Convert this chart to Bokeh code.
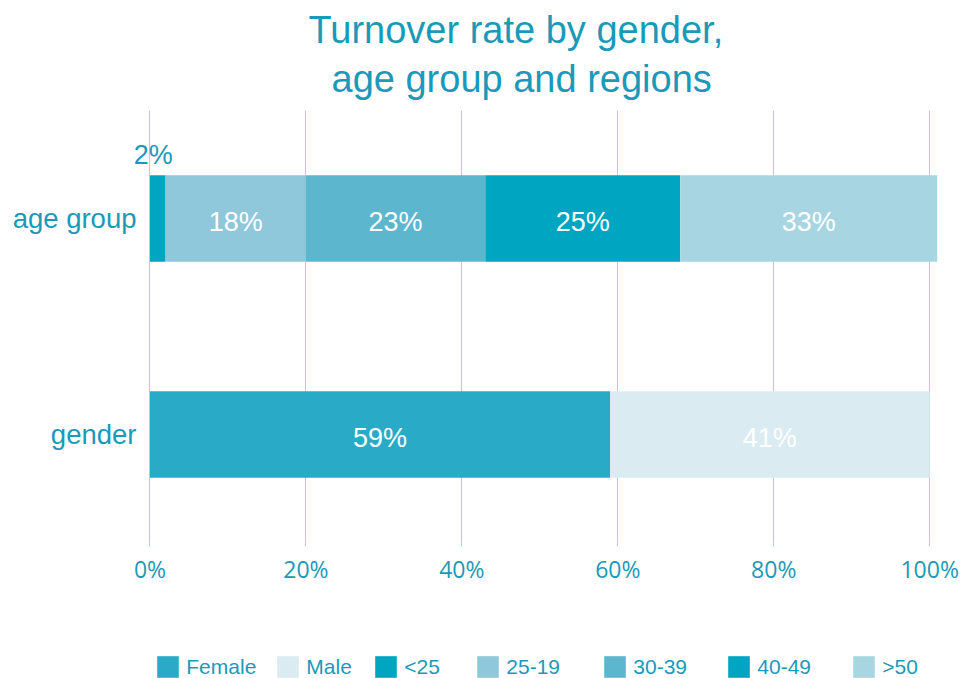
import numpy as np
from bokeh.plotting import figure
from bokeh.layouts import column
from bokeh.models import (ColumnDataSource, FactorRange, Range1d, FixedTicker,
                          PrintfTickFormatter, Legend, LegendItem, Title)
from bokeh.transform import dodge
from bokeh.core.properties import value
from bokeh.embed import file_html
from bokeh.resources import INLINE

# ---- data ----
categories = ["gender", "age group"]
gender_labels = ["Female", "Male"]
gender_values = [59, 41]
age_labels = ["<25", "25-19", "30-39", "40-49", ">50"]
age_values = [2, 18, 23, 25, 33]
x_ticks = [0, 20, 40, 60, 80, 100]

# ---- styles ----
gender_colors = ["#29abc7", "#daebf1"]
age_colors = ["#00a5c2", "#8fc8da", "#5cb6ce", "#00a5c2", "#a8d5e2"]
TEAL = "#1a9ab8"
GRID = "#a6d3de"
FONT = "Liberation Sans"
FRAME_LEFT = 130
legend_x = [157, 277, 375, 477, 604, 728, 853]   # legend swatch positions (px on page)

p = figure(title=None, y_range=FactorRange(*categories), x_range=Range1d(-2.5, 101),
           frame_width=807, frame_height=432,
           min_border_left=FRAME_LEFT, min_border_right=25,
           min_border_top=110, min_border_bottom=50,
           output_backend="svg", toolbar_location=None)

t2 = Title(text="age group and regions", align="left", offset=201,
           text_font=FONT, text_font_size="38px", text_font_style="normal",
           text_color=TEAL, standoff=22)
t1 = Title(text="Turnover rate by gender,", align="left", offset=178,
           text_font=FONT, text_font_size="38px", text_font_style="normal",
           text_color=TEAL, standoff=-12)
p.add_layout(t2, "above")
p.add_layout(t1, "above")

inside = dict(x=[], y=[], text=[])
outside = dict(x=[], y=[], text=[])

def draw(cat, values, colors):
    vals = np.array(values, dtype=float)
    rights = np.cumsum(vals)
    lefts = rights - vals
    for v, l, r, c in zip(vals, lefts, rights, colors):
        src = ColumnDataSource(dict(y=[cat], left=[l], right=[r]))
        p.hbar(y="y", left="left", right="right", height=0.4, source=src,
               fill_color=c, line_color=None)
        target = inside if v >= 5 else outside
        target["x"].append((l + r) / 2)
        target["y"].append(cat)
        target["text"].append(f"{int(v)}%")

draw("gender", gender_values, gender_colors)
draw("age group", age_values, age_colors)

p.text(x="x", y="y", text="text", source=ColumnDataSource(inside), y_offset=3,
       text_font=value(FONT), text_font_size="27px", text_color="white",
       text_align="center", text_baseline="middle")
p.text(x="x", y=dodge("y", 0.2, range=p.y_range), text="text",
       source=ColumnDataSource(outside), x_offset=-4.5, y_offset=-5,
       text_font=value(FONT), text_font_size="27px", text_color=TEAL,
       text_align="center", text_baseline="bottom")

p.outline_line_color = None
p.xgrid.ticker = FixedTicker(ticks=x_ticks)
p.xgrid.grid_line_color = GRID
p.ygrid.grid_line_color = None

p.xaxis.ticker = FixedTicker(ticks=x_ticks)
p.xaxis.formatter = PrintfTickFormatter(format="%d%%")
p.xaxis.axis_line_color = None
p.xaxis.major_tick_line_color = GRID
p.xaxis.major_tick_in = 0
p.xaxis.major_tick_out = 4
p.xaxis.minor_tick_line_color = None
p.xaxis.major_label_text_font = "Open Sans"
p.xaxis.major_label_text_font_size = "23px"
p.xaxis.major_label_text_color = TEAL
p.xaxis.major_label_standoff = 6

p.yaxis.axis_line_color = None
p.yaxis.major_tick_line_color = None
p.yaxis.minor_tick_line_color = None
p.yaxis.major_label_text_font = FONT
p.yaxis.major_label_text_font_size = "27.5px"
p.yaxis.major_label_text_color = TEAL
p.yaxis.major_label_standoff = -12

# ---- legend strip (its frame is aligned with the main frame) ----
lg = figure(width=962, height=86, x_range=(0, 1), y_range=(0, 1),
            x_axis_location=None, y_axis_location=None,
            min_border_left=FRAME_LEFT, min_border_right=25,
            min_border_top=0, min_border_bottom=0,
            output_backend="svg", toolbar_location=None)
lg.outline_line_color = None
lg.grid.grid_line_color = None

GLYPH = 27  # legend key box; the drawn swatch is 80% of it
for lab, c, lx in zip(gender_labels + age_labels, gender_colors + age_colors, legend_x):
    # zero-width bar: invisible in the plot, only provides the legend key style
    r = lg.hbar(y=[0.5], left=[0], right=[0], height=0.5, fill_color=c, line_color=None)
    leg = Legend(items=[LegendItem(label=lab, renderers=[r])],
                 location=(lx - FRAME_LEFT - GLYPH * 0.1, -2),
                 padding=0, margin=0, glyph_width=GLYPH, glyph_height=GLYPH,
                 label_standoff=5, label_text_font=FONT, label_text_font_size="21px",
                 label_text_color=TEAL, label_height=22, border_line_color=None,
                 background_fill_alpha=0)
    lg.add_layout(leg)

open("out.html", "w").write(file_html(column(p, lg, spacing=0), INLINE))
